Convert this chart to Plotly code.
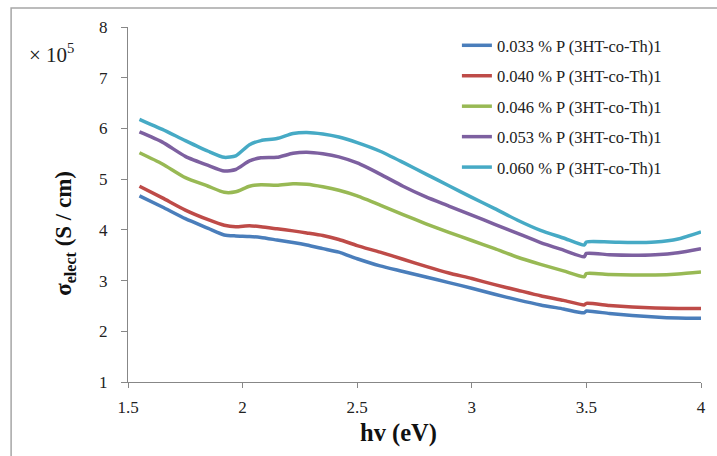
import plotly.graph_objects as go

# Photon energy (eV) sampling points
hv = [1.55, 1.65, 1.75, 1.85, 1.92, 1.97, 2.03, 2.08, 2.15, 2.22, 2.28, 2.35, 2.42,
      2.5, 2.6, 2.7, 2.8, 2.9, 3.0, 3.1, 3.2, 3.3, 3.4, 3.49, 3.5, 3.6, 3.7, 3.8, 3.9, 4.0]

# Electrical conductivity (x 10^5 S/cm) for each P(3HT-co-Th) content
s_033 = [4.67, 4.45, 4.22, 4.03, 3.90, 3.88, 3.87, 3.85, 3.80, 3.75, 3.70, 3.63, 3.56,
         3.43, 3.29, 3.18, 3.07, 2.96, 2.85, 2.73, 2.62, 2.52, 2.44, 2.365, 2.40, 2.35, 2.31, 2.28, 2.26, 2.255]
s_040 = [4.86, 4.63, 4.39, 4.20, 4.09, 4.06, 4.08, 4.06, 4.02, 3.98, 3.94, 3.89, 3.81,
         3.69, 3.56, 3.42, 3.28, 3.15, 3.04, 2.92, 2.81, 2.70, 2.61, 2.52, 2.55, 2.51, 2.48, 2.46, 2.45, 2.45]
s_046 = [5.52, 5.30, 5.03, 4.86, 4.74, 4.75, 4.86, 4.89, 4.88, 4.91, 4.90, 4.85, 4.78,
         4.67, 4.49, 4.30, 4.12, 3.95, 3.79, 3.63, 3.46, 3.32, 3.19, 3.075, 3.14, 3.12, 3.11, 3.11, 3.13, 3.17]
s_053 = [5.93, 5.73, 5.45, 5.27, 5.16, 5.19, 5.36, 5.42, 5.43, 5.51, 5.53, 5.50, 5.44,
         5.32, 5.10, 4.86, 4.65, 4.47, 4.29, 4.11, 3.93, 3.75, 3.60, 3.47, 3.535, 3.51, 3.50, 3.51, 3.55, 3.63]
s_060 = [6.18, 5.98, 5.76, 5.55, 5.43, 5.46, 5.68, 5.76, 5.80, 5.90, 5.92, 5.89, 5.83,
         5.72, 5.55, 5.33, 5.10, 4.87, 4.64, 4.42, 4.19, 3.99, 3.84, 3.70, 3.76, 3.76, 3.75, 3.76, 3.82, 3.96]

series_names = ["0.033 % P (3HT-co-Th)1", "0.040 % P (3HT-co-Th)1", "0.046 % P (3HT-co-Th)1",
                "0.053 % P (3HT-co-Th)1", "0.060 % P (3HT-co-Th)1"]
series_values = [s_033, s_040, s_046, s_053, s_060]
colors = ["#4A7EBB", "#BE4B48", "#98B954", "#7D60A0", "#46AAC5"]

x_ticks = [1.5, 2, 2.5, 3, 3.5, 4]
x_tick_text = ["1.5", "2", "2.5", "3", "3.5", "4"]
y_ticks = [1, 2, 3, 4, 5, 6, 7, 8]

SERIF = "Liberation Serif, Times New Roman, serif"
AXIS_GRAY = "#878787"

fig = go.Figure()
for i, (name, vals, col) in enumerate(zip(series_names, series_values, colors)):
    fig.add_trace(go.Scatter(
        x=hv, y=vals, name=name, mode="lines", legendgroup=f"g{i}",
        line=dict(color=col, width=3.5, shape="spline", smoothing=0.6),
    ))

fig.update_layout(
    width=717, height=456,
    margin=dict(l=128, r=11, t=27, b=74),
    paper_bgcolor="white", plot_bgcolor="white",
    font=dict(family=SERIF, color="#222222"),
    showlegend=True,
    legend=dict(
        x=0.574, y=0.997, xanchor="left", yanchor="top",
        font=dict(family=SERIF, size=16.5, color="#222222"),
        bgcolor="rgba(0,0,0,0)", tracegroupgap=6,
        traceorder="grouped",
    ),
    xaxis=dict(
        range=[1.5, 4], tickvals=x_ticks, ticktext=x_tick_text,
        showgrid=False, zeroline=False, showline=True, linecolor=AXIS_GRAY, linewidth=1.2,
        ticks="outside", ticklen=5, tickcolor=AXIS_GRAY, tickwidth=1.2,
        tickfont=dict(family=SERIF, size=17, color="#222222"),
        ticklabelstandoff=4,
    ),
    yaxis=dict(
        range=[1, 8], tickvals=y_ticks,
        showgrid=False, zeroline=False, showline=True, linecolor=AXIS_GRAY, linewidth=1.2,
        ticks="outside", ticklen=6, tickcolor=AXIS_GRAY, tickwidth=1.2,
        tickfont=dict(family=SERIF, size=17, color="#222222"),
        ticklabelstandoff=10,
    ),
    shapes=[
        # outer frame around the figure
        dict(type="rect", xref="paper", yref="paper",
             x0=-0.204, x1=1.2, y0=-0.4, y1=1.0535,
             line=dict(color="#A6A6A6", width=1.5), fillcolor="rgba(0,0,0,0)", layer="below"),
    ],
    annotations=[
        dict(text="× 10<sup>5</sup>", xref="paper", yref="paper",
             x=-0.134, y=0.925, xanchor="center", yanchor="middle", showarrow=False,
             font=dict(family=SERIF, size=21, color="#222222")),
        dict(text="<b>σ<sub>elect</sub> (S / cm)</b>", xref="paper", yref="paper",
             x=-0.11, y=0.42, xanchor="center", yanchor="middle",
             textangle=-90, showarrow=False,
             font=dict(family=SERIF, size=23, color="#111111")),
        dict(text="<b>hv (eV)</b>", xref="paper", yref="paper",
             x=0.472, y=-0.145, xanchor="center", yanchor="middle", showarrow=False,
             font=dict(family=SERIF, size=24.5, color="#111111")),
    ],
)

fig.write_html("out.html")
